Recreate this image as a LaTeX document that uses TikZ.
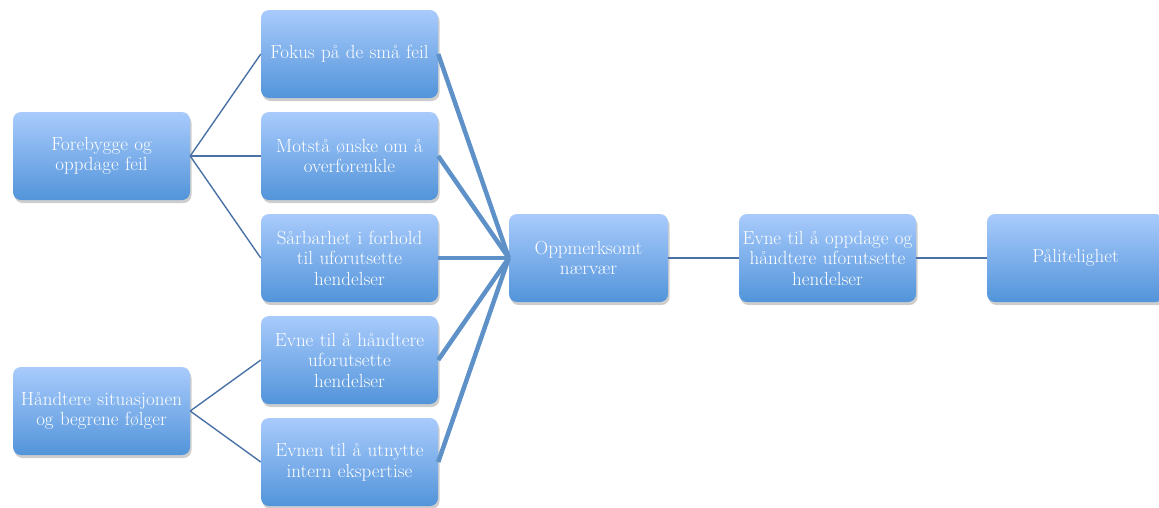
\documentclass[tikz,border=0pt]{standalone}
\usetikzlibrary{shadows}
\definecolor{boxtop}{HTML}{A9CBFC}
\definecolor{boxbot}{HTML}{5294DA}
\definecolor{thinline}{HTML}{4A72A6}
\definecolor{thickline}{HTML}{5E91C8}
\begin{document}
\begin{tikzpicture}[x=1pt,y=-1pt,
  box/.style={rounded corners=8pt, top color=boxtop, bottom color=boxbot, draw=none,
    minimum width=177pt, minimum height=88pt, text width=176pt, align=center,
    text=white, font=\fontsize{19}{20.5}\selectfont, inner sep=0pt,
    drop shadow={shadow xshift=1.5pt, shadow yshift=-3pt, opacity=0.28, fill=black!70}},
  thin/.style={draw=thinline, line width=1.4pt},
  thick/.style={draw=thickline, line width=4.5pt}]
\useasboundingbox (0,0) rectangle (1159,507);
\node[box] (A) at (101.5,156) {Forebygge og\\oppdage feil};
\node[box] (C) at (101.5,411) {Håndtere situasjonen\\og begrene følger};
\node[box] (B1) at (349.5,54) {Fokus på de små feil};
\node[box] (B2) at (349.5,156) {Motstå ønske om å\\overforenkle};
\node[box] (B3) at (349.5,258) {Sårbarhet i forhold\\til uforutsette\\hendelser};
\node[box] (B4) at (349.5,360) {Evne til å håndtere\\uforutsette\\hendelser};
\node[box] (B5) at (349.5,462) {Evnen til å utnytte\\intern ekspertise};
\node[box, minimum width=159pt, text width=158pt] (D) at (588.5,258) {Oppmerksomt\\nærvær};
\node[box] (E) at (827.5,258) {Evne til å oppdage og\\håndtere uforutsette\\hendelser};
\node[box] (F) at (1075.5,258) {Pålitelighet};
\draw[thin] (A.east) -- (B1.west);
\draw[thin] (A.east) -- (B2.west);
\draw[thin] (A.east) -- (B3.west);
\draw[thin] (C.east) -- (B4.west);
\draw[thin] (C.east) -- (B5.west);
\foreach \b in {B1,B2,B3,B4,B5} \draw[thick] (\b.east) -- (D.west);
\draw[thin] (D.east) -- (E.west);
\draw[thin] (E.east) -- (F.west);
\end{tikzpicture}
\end{document}
